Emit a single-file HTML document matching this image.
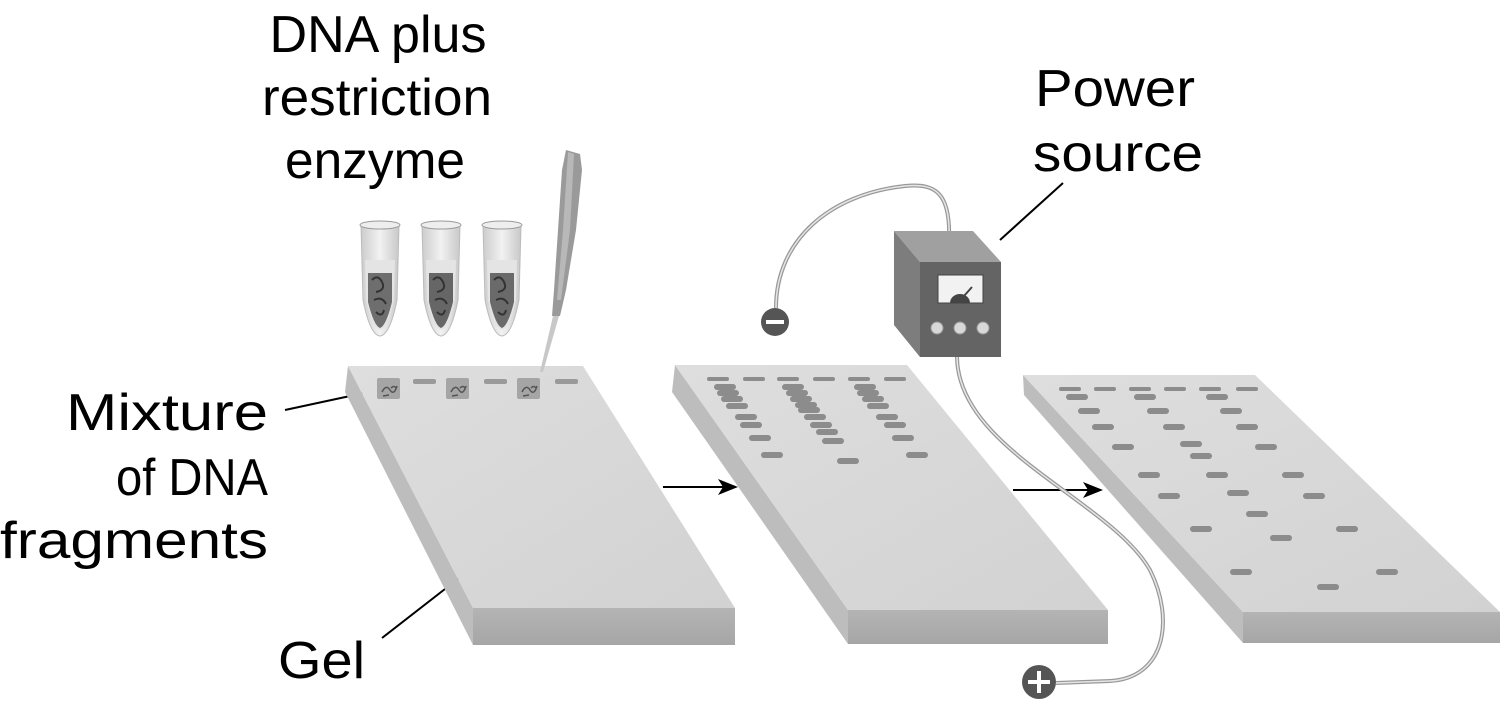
<!DOCTYPE html>
<html><head><meta charset="utf-8"><style>html,body{margin:0;padding:0;background:#fff}svg{display:block}</style></head>
<body>
<svg width="1511" height="708" viewBox="0 0 1511 708" xmlns="http://www.w3.org/2000/svg" font-family="Liberation Sans, sans-serif" font-size="52" fill="#000">
<defs>
<linearGradient id="top" x1="0" y1="0" x2="1" y2="1"><stop offset="0" stop-color="#dedede"/><stop offset="1" stop-color="#d2d2d2"/></linearGradient>
<linearGradient id="front" x1="0" y1="0" x2="0" y2="1"><stop offset="0" stop-color="#b4b4b4"/><stop offset="1" stop-color="#a6a6a6"/></linearGradient>
<linearGradient id="tube" x1="0" y1="0" x2="1" y2="0"><stop offset="0" stop-color="#ccc"/><stop offset=".5" stop-color="#f2f2f2"/><stop offset="1" stop-color="#c8c8c8"/></linearGradient>
</defs>

<text x="378" y="52" text-anchor="middle" textLength="217" lengthAdjust="spacingAndGlyphs">DNA plus</text>
<text x="377" y="115" text-anchor="middle" textLength="230" lengthAdjust="spacingAndGlyphs">restriction</text>
<text x="375" y="178" text-anchor="middle" textLength="180" lengthAdjust="spacingAndGlyphs">enzyme</text>
<text x="1115" y="106" text-anchor="middle" textLength="160" lengthAdjust="spacingAndGlyphs">Power</text>
<text x="1118" y="171" text-anchor="middle" textLength="170" lengthAdjust="spacingAndGlyphs">source</text>
<text x="268" y="430" text-anchor="end" textLength="202" lengthAdjust="spacingAndGlyphs">Mixture</text>
<text x="268" y="495" text-anchor="end" textLength="152" lengthAdjust="spacingAndGlyphs">of DNA</text>
<text x="268" y="558" text-anchor="end" textLength="268" lengthAdjust="spacingAndGlyphs">fragments</text>
<text x="278" y="678" textLength="87" lengthAdjust="spacingAndGlyphs">Gel</text>

<g stroke="#000" stroke-width="2" fill="none">
<line x1="285" y1="410" x2="378" y2="390"/>
<line x1="382" y1="638" x2="472" y2="568"/>
<line x1="1000" y1="240" x2="1063" y2="183"/>
<line x1="663" y1="487" x2="725" y2="487"/>
<line x1="1013" y1="490" x2="1090" y2="490"/>
</g>
<polygon points="738,487 718,479 723,487 718,495"/>
<polygon points="1103,490 1083,482 1088,490 1083,498"/>

<!-- Gel 1 -->
<polygon points="348,366 473,608 473,645 345,392" fill="#bdbdbd"/>
<polygon points="473,608 735,608 735,645 473,645" fill="url(#front)"/>
<polygon points="348,366 583,366 735,608 473,608" fill="url(#top)"/>
<g fill="#a5a5a5">
<rect x="377" y="378" width="23" height="21" rx="2"/><rect x="446" y="378" width="23" height="21" rx="2"/><rect x="517" y="378" width="23" height="21" rx="2"/>
</g>
<g fill="#9a9a9a"><rect x="413" y="379" width="23" height="5" rx="2"/><rect x="484" y="379" width="23" height="5" rx="2"/><rect x="555" y="379" width="23" height="5" rx="2"/></g>
<g stroke="#555" stroke-width="1.5" fill="none">
<path d="M382,392 q4,-8 8,-2 q4,6 7,-4 M383,396 l6,-1 M391,388 q3,-3 5,0"/>
<path d="M451,392 q4,-8 8,-2 q4,6 7,-4 M452,396 l6,-1 M460,388 q3,-3 5,0"/>
<path d="M522,392 q4,-8 8,-2 q4,6 7,-4 M523,396 l6,-1 M531,388 q3,-3 5,0"/>
</g>

<!-- Tubes -->
<g>
<g transform="translate(380,0)">
<path d="M-19,225 L19,225 L17,300 Q10,335 0,336 Q-10,335 -17,300 Z" fill="url(#tube)" stroke="#bbb"/>
<ellipse cx="0" cy="225" rx="20" ry="4" fill="#eee" stroke="#999"/>
<path d="M-15,260 L15,260 L14,300 Q8,328 0,330 Q-8,328 -14,300 Z" fill="#e4e4e4"/>
<path d="M-12,273 L12,273 L12,302 Q6,326 0,328 Q-6,326 -12,302 Z" fill="#6e6e6e"/>
<path d="M-8,280 q6,-6 10,2 q4,8 -6,10 M-6,300 q8,-4 12,4 M-4,312 q6,6 8,-2" stroke="#333" stroke-width="2" fill="none"/>
</g>
<g transform="translate(441,0)">
<path d="M-19,225 L19,225 L17,300 Q10,335 0,336 Q-10,335 -17,300 Z" fill="url(#tube)" stroke="#bbb"/>
<ellipse cx="0" cy="225" rx="20" ry="4" fill="#eee" stroke="#999"/>
<path d="M-15,260 L15,260 L14,300 Q8,328 0,330 Q-8,328 -14,300 Z" fill="#e4e4e4"/>
<path d="M-12,273 L12,273 L12,302 Q6,326 0,328 Q-6,326 -12,302 Z" fill="#666"/>
<path d="M-8,280 q6,-6 10,2 q4,8 -6,10 M-6,300 q8,-4 12,4 M-4,312 q6,6 8,-2" stroke="#333" stroke-width="2" fill="none"/>
</g>
<g transform="translate(502,0)">
<path d="M-19,225 L19,225 L17,300 Q10,335 0,336 Q-10,335 -17,300 Z" fill="url(#tube)" stroke="#bbb"/>
<ellipse cx="0" cy="225" rx="20" ry="4" fill="#eee" stroke="#999"/>
<path d="M-15,260 L15,260 L14,300 Q8,328 0,330 Q-8,328 -14,300 Z" fill="#e4e4e4"/>
<path d="M-12,273 L12,273 L12,302 Q6,326 0,328 Q-6,326 -12,302 Z" fill="#6a6a6a"/>
<path d="M-8,280 q6,-6 10,2 q4,8 -6,10 M-6,300 q8,-4 12,4 M-4,312 q6,6 8,-2" stroke="#333" stroke-width="2" fill="none"/>
</g>
</g>

<!-- Pipette -->
<polygon points="566,150 580,154 582,170 576,230 566,290 560,316 552,316 554,290 558,230 562,170" fill="#9a9a9a"/>
<polygon points="568,152 574,154 570,230 561,300 557,300 563,230" fill="#b8b8b8"/>
<polygon points="553,316 559,316 543,372 540,372" fill="#c8c8c8"/>

<!-- Gel 2 -->
<polygon points="675,365 848,610 848,644 672,392" fill="#bdbdbd"/>
<polygon points="848,610 1108,610 1108,644 848,644" fill="url(#front)"/>
<polygon points="675,365 907,365 1108,610 848,610" fill="url(#top)"/>
<g fill="#8c8c8c">
<rect x="707" y="377" width="22" height="4" rx="2"/><rect x="743" y="377" width="22" height="4" rx="2"/><rect x="777" y="377" width="22" height="4" rx="2"/><rect x="813" y="377" width="22" height="4" rx="2"/><rect x="848" y="377" width="22" height="4" rx="2"/><rect x="884" y="377" width="22" height="4" rx="2"/>
<rect x="714" y="384" width="22" height="6" rx="3"/><rect x="717" y="390" width="22" height="6" rx="3"/><rect x="721" y="396" width="22" height="6" rx="3"/><rect x="726" y="403" width="22" height="6" rx="3"/><rect x="735" y="414" width="22" height="6" rx="3"/><rect x="740" y="422" width="22" height="6" rx="3"/><rect x="749" y="435" width="22" height="6" rx="3"/><rect x="761" y="452" width="22" height="6" rx="3"/>
<rect x="782" y="384" width="22" height="6" rx="3"/><rect x="786" y="390" width="22" height="6" rx="3"/><rect x="790" y="396" width="22" height="6" rx="3"/><rect x="795" y="402" width="22" height="6" rx="3"/><rect x="798" y="407" width="22" height="6" rx="3"/><rect x="804" y="414" width="22" height="6" rx="3"/><rect x="810" y="422" width="22" height="6" rx="3"/><rect x="816" y="429" width="22" height="6" rx="3"/><rect x="822" y="438" width="22" height="6" rx="3"/><rect x="837" y="458" width="22" height="6" rx="3"/>
<rect x="854" y="384" width="22" height="6" rx="3"/><rect x="857" y="390" width="22" height="6" rx="3"/><rect x="862" y="396" width="22" height="6" rx="3"/><rect x="867" y="403" width="22" height="6" rx="3"/><rect x="876" y="414" width="22" height="6" rx="3"/><rect x="884" y="422" width="22" height="6" rx="3"/><rect x="892" y="435" width="22" height="6" rx="3"/><rect x="906" y="452" width="22" height="6" rx="3"/>
</g>

<!-- Gel 3 -->
<polygon points="1023,375 1243,612 1243,643 1024,395" fill="#bdbdbd"/>
<polygon points="1243,612 1500,612 1500,643 1243,643" fill="url(#front)"/>
<polygon points="1023,375 1255,375 1500,612 1243,612" fill="url(#top)"/>
<g fill="#8c8c8c">
<rect x="1059" y="387" width="22" height="4" rx="2"/><rect x="1094" y="387" width="22" height="4" rx="2"/><rect x="1129" y="387" width="22" height="4" rx="2"/><rect x="1164" y="387" width="22" height="4" rx="2"/><rect x="1199" y="387" width="22" height="4" rx="2"/><rect x="1236" y="387" width="22" height="4" rx="2"/>
<rect x="1066" y="394" width="22" height="6" rx="3"/><rect x="1134" y="394" width="22" height="6" rx="3"/><rect x="1206" y="394" width="22" height="6" rx="3"/>
<rect x="1078" y="408" width="22" height="6" rx="3"/><rect x="1147" y="408" width="22" height="6" rx="3"/><rect x="1220" y="408" width="22" height="6" rx="3"/>
<rect x="1092" y="424" width="22" height="6" rx="3"/><rect x="1163" y="424" width="22" height="6" rx="3"/><rect x="1236" y="424" width="22" height="6" rx="3"/>
<rect x="1112" y="444" width="22" height="6" rx="3"/><rect x="1180" y="441" width="22" height="6" rx="3"/><rect x="1190" y="453" width="22" height="6" rx="3"/><rect x="1255" y="444" width="22" height="6" rx="3"/>
<rect x="1138" y="472" width="22" height="6" rx="3"/><rect x="1206" y="472" width="22" height="6" rx="3"/><rect x="1282" y="472" width="22" height="6" rx="3"/>
<rect x="1158" y="493" width="22" height="6" rx="3"/><rect x="1227" y="490" width="22" height="6" rx="3"/><rect x="1303" y="493" width="22" height="6" rx="3"/>
<rect x="1246" y="511" width="22" height="6" rx="3"/>
<rect x="1190" y="526" width="22" height="6" rx="3"/><rect x="1336" y="526" width="22" height="6" rx="3"/>
<rect x="1270" y="535" width="22" height="6" rx="3"/>
<rect x="1230" y="569" width="22" height="6" rx="3"/><rect x="1376" y="569" width="22" height="6" rx="3"/>
<rect x="1317" y="584" width="22" height="6" rx="3"/>
</g>

<g fill="none">
<path d="M949,241 C951,192 935,183 905,186 C830,194 776,240 776,308" stroke="#999" stroke-width="4"/>
<path d="M949,241 C951,192 935,183 905,186 C830,194 776,240 776,308" stroke="#e6e6e6" stroke-width="1.5"/>
<path d="M957,357 C958,450 1110,500 1150,570 C1175,620 1165,678 1110,681 L1056,683" stroke="#999" stroke-width="4"/>
<path d="M957,357 C958,450 1110,500 1150,570 C1175,620 1165,678 1110,681 L1056,683" stroke="#e6e6e6" stroke-width="1.5"/>
</g>

<polygon points="894,231 920,262 920,357 894,325" fill="#7d7d7d"/>
<polygon points="894,231 973,231 1001,262 920,262" fill="#a0a0a0"/>
<rect x="920" y="262" width="81" height="95" fill="#646464"/>
<rect x="938" y="275" width="45" height="28" fill="#f2f2f2" stroke="#444"/>
<path d="M950,303 A10,9 0 0 1 970,303 Z" fill="#444"/>
<line x1="964" y1="296" x2="972" y2="287" stroke="#444" stroke-width="2"/>
<g fill="#d8d8d8" stroke="#999"><circle cx="937" cy="328" r="6"/><circle cx="960" cy="328" r="6"/><circle cx="983" cy="328" r="6"/></g>

<circle cx="775" cy="322" r="14" fill="#555"/>
<rect x="766" y="320" width="18" height="4" fill="#fff"/>
<circle cx="1039" cy="682" r="17" fill="#555"/>
<rect x="1028" y="680" width="22" height="4" fill="#fff"/>
<rect x="1037" y="671" width="4" height="22" fill="#fff"/>
</svg>
</body></html>
